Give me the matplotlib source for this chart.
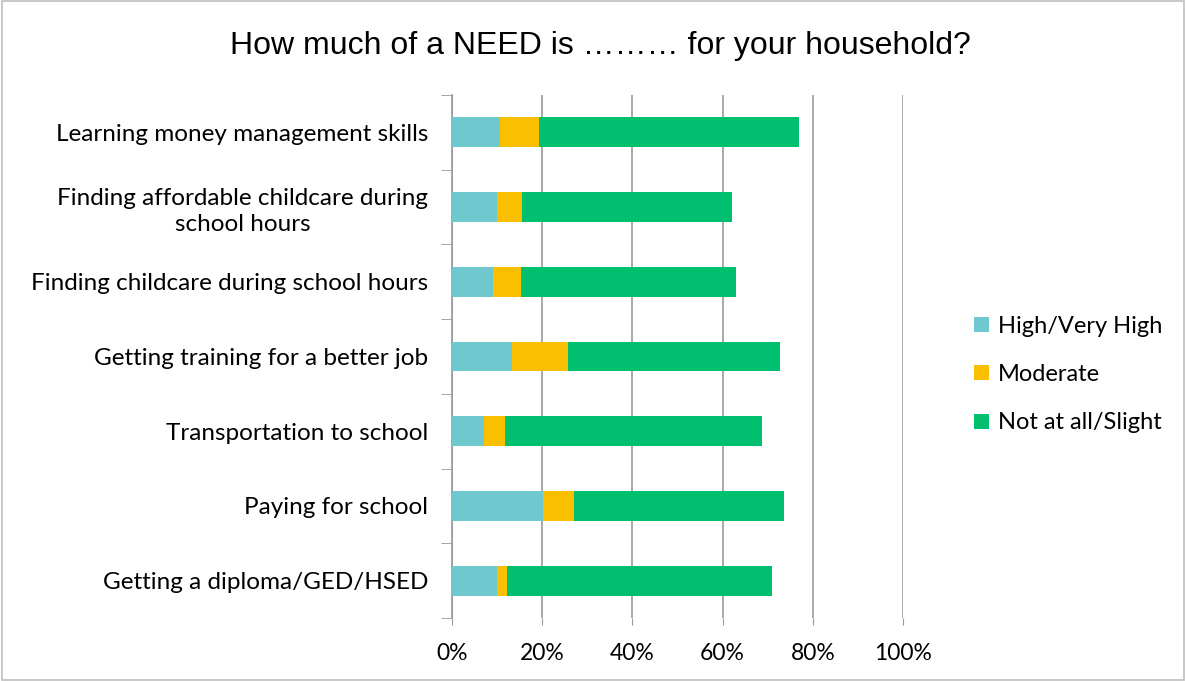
import matplotlib.pyplot as plt
import numpy as np
from matplotlib.patches import Rectangle

# survey responses, top row first
categories = [
    "Learning money management skills",
    "Finding affordable childcare during\nschool hours",
    "Finding childcare during school hours",
    "Getting training for a better job",
    "Transportation to school",
    "Paying for school",
    "Getting a diploma/GED/HSED",
]
high = [10.7, 10.0, 9.2, 13.3, 7.0, 20.2, 10.0]
moderate = [8.6, 5.5, 6.2, 12.5, 4.7, 6.9, 2.3]
not_at_all = [57.6, 46.6, 47.6, 46.9, 57.0, 46.6, 58.7]
series_names = ["High/Very High", "Moderate", "Not at all/Slight"]
colors = ["#6EC8CD", "#FABF00", "#00BF6F"]

plt.rcParams['font.family'] = ['Lato', 'DejaVu Sans']

fig = plt.figure(figsize=(11.86, 6.81), dpi=100)
ax = fig.add_axes([0.3811, 0.0925, 0.3803, 0.768])

y = np.arange(len(categories))[::-1]
left = np.zeros(len(categories))
for vals, name, c in zip([high, moderate, not_at_all], series_names, colors):
    ax.barh(y, vals, left=left, height=0.4, color=c, label=name, zorder=3)
    left += np.array(vals)

ax.set_xlim(0, 100)
ax.set_ylim(-0.5, len(categories) - 0.5)
ax.set_xticks(np.arange(0, 101, 20))
ax.set_xticklabels([f"{v}%" for v in range(0, 101, 20)], fontsize=16.5)
ax.set_yticks(y)
ax.set_yticklabels(categories, fontsize=17.5, multialignment='center', linespacing=1.3)
ax.set_yticks(np.arange(-0.5, len(categories), 1), minor=True)
ax.tick_params(axis='y', which='major', length=0, pad=17)
ax.tick_params(axis='y', which='minor', length=8, color='#999999', direction='out')
ax.tick_params(axis='x', length=5, color='#999999', pad=13)

ax.grid(axis='x', color='#999999', linewidth=1.2, zorder=0)
for s in ['top', 'right', 'bottom']:
    ax.spines[s].set_visible(False)
ax.spines['left'].set_color('#999999')
ax.spines['left'].set_linewidth(1.2)

fig.text(0.506, 0.932, "How much of a NEED is \u2026\u2026\u2026 for your household?",
         ha='center', va='center', fontsize=23, family='Liberation Sans')

ax.legend(loc='center left', bbox_to_anchor=(1.111, 0.465), frameon=False,
          fontsize=17, handlelength=0.6, handleheight=0.6, labelspacing=1.15,
          handletextpad=0.4)

# light frame round the whole chart
fig.patches.append(Rectangle((0.002, 0.002), 0.996, 0.996, transform=fig.transFigure,
                             fill=False, edgecolor='#BFBFBF', linewidth=1.2))

fig.savefig('out.png', dpi=100)
